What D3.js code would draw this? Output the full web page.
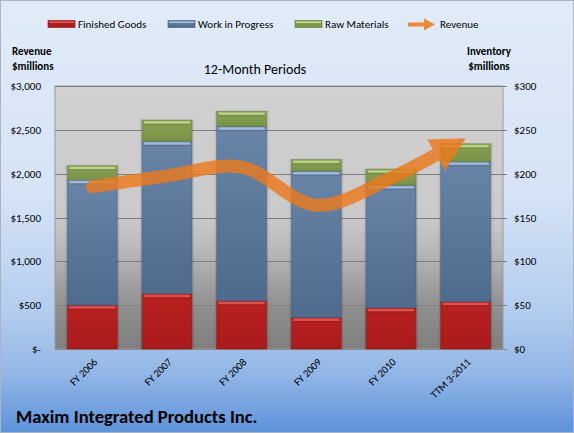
<!DOCTYPE html>
<html>
<head>
<meta charset="utf-8">
<script src="https://cdnjs.cloudflare.com/ajax/libs/d3/7.8.5/d3.min.js"></script>
<style>
  html, body { margin: 0; padding: 0; background: #fff; }
  svg { display: block; }
  text { font-family: Carlito, Lato, "Open Sans", sans-serif; fill: #000; }
</style>
</head>
<body>
<svg id="chart" width="574" height="433"></svg>
<script>
const categories = ["FY 2006", "FY 2007", "FY 2008", "FY 2009", "FY 2010", "TTM 3-2011"];
const finishedGoods = [50, 63, 55, 36, 47, 54];
const workInProgress = [143, 174, 199, 167, 140, 160];
const rawMaterials = [16, 24, 17, 13, 18, 20];
const revenue = [1850, 1975, 2075, 1640, 1950, 2405];
const revenueTicks = [0, 500, 1000, 1500, 2000, 2500, 3000];
const inventoryTicks = [0, 50, 100, 150, 200, 250, 300];
const seriesNames = ["Finished Goods", "Work in Progress", "Raw Materials"];

const W = 574, H = 433;
const plot = { left: 55, right: 503, top: 86, bottom: 349 };
const svg = d3.select("#chart");
const defs = svg.append("defs");

function vgrad(id, stops) {
  const g = defs.append("linearGradient").attr("id", id)
    .attr("x1", 0).attr("y1", 0).attr("x2", 0).attr("y2", 1);
  stops.forEach(s => g.append("stop").attr("offset", s[0]).attr("stop-color", s[1]));
}
vgrad("bgGrad", [[0, "#e1ebf8"], [0.45, "#d5e3f6"], [0.72, "#b3cdee"], [0.86, "#93b7e6"], [1, "#5d93da"]]);
vgrad("plotGrad", [[0, "#d1d1d1"], [0.5, "#cacaca"], [0.62, "#b9b9b9"], [0.85, "#8e8e8e"], [1, "#7e7e7e"]]);
vgrad("g0", [[0, "#b8211f"], [1, "#aa1b1b"]]);
vgrad("g1", [[0, "#6884a7"], [1, "#4e6b8e"]]);
vgrad("g2", [[0, "#88a154"], [1, "#7a9348"]]);
const hiColors = ["#e25a5a", "#a9c3e2", "#c3da8e"];
const edgeColors = ["#8a1414", "#3f5674", "#5f7536"];

// background
svg.append("rect").attr("x", 0.5).attr("y", 0.5).attr("width", W - 1).attr("height", H - 1)
  .attr("fill", "url(#bgGrad)").attr("stroke", "#a8b4c4").attr("stroke-width", 1);

// scales
const x = d3.scaleBand().domain(categories).range([plot.left, plot.right])
  .paddingInner(0.33).paddingOuter(0.165);
const yL = d3.scaleLinear().domain([0, 3000]).range([plot.bottom, plot.top]);
const yR = d3.scaleLinear().domain([0, 300]).range([plot.bottom, plot.top]);

// plot area
svg.append("rect").attr("x", plot.left).attr("y", plot.top)
  .attr("width", plot.right - plot.left).attr("height", plot.bottom - plot.top)
  .attr("fill", "url(#plotGrad)").attr("stroke", "#9a9a9a");

// gridlines
svg.append("g").selectAll("line").data(revenueTicks.slice(1)).join("line")
  .attr("x1", plot.left).attr("x2", plot.right + 4)
  .attr("y1", d => Math.round(yL(d)) + 0.5).attr("y2", d => Math.round(yL(d)) + 0.5)
  .attr("stroke", "#7f7f7f").attr("stroke-width", 1);
svg.append("line").attr("x1", plot.left).attr("x2", plot.right + 4)
  .attr("y1", plot.bottom + 0.5).attr("y2", plot.bottom + 0.5).attr("stroke", "#8a8a8a");

// left axis
const leftAxis = d3.axisLeft(yL).tickValues(revenueTicks).tickSize(0).tickPadding(14)
  .tickFormat(d => d === 0 ? "$-" : "$" + d3.format(",")(d));
const la = svg.append("g").attr("transform", `translate(${plot.left},0)`).call(leftAxis);
la.select(".domain").remove();
la.selectAll("text").style("font-size", "11px").style("font-family", "Carlito, Lato, sans-serif").attr("fill", "#000");

// right axis
const rightAxis = d3.axisRight(yR).tickValues(inventoryTicks).tickSize(0).tickPadding(11)
  .tickFormat(d => "$" + d);
const ra = svg.append("g").attr("transform", `translate(${plot.right},0)`).call(rightAxis);
ra.select(".domain").remove();
ra.selectAll("text").style("font-size", "11px").style("font-family", "Carlito, Lato, sans-serif").attr("fill", "#000");

// stacked bars
const rows = categories.map((c, i) => ({ cat: c, fg: finishedGoods[i], wip: workInProgress[i], rm: rawMaterials[i] }));
const stack = d3.stack().keys(["fg", "wip", "rm"])(rows);
const bw = x.bandwidth();
// shadow
svg.append("g").selectAll("rect").data(rows).join("rect")
  .attr("x", d => x(d.cat) - 2).attr("y", d => yR(d.fg + d.wip + d.rm) - 1)
  .attr("width", bw + 4).attr("height", d => plot.bottom - yR(d.fg + d.wip + d.rm) + 1)
  .attr("fill", "rgba(0,0,0,0.08)");
stack.forEach((layer, k) => {
  const g = svg.append("g");
  layer.forEach((d, i) => {
    const x0 = x(categories[i]);
    const yTop = yR(d[1]), yBot = yR(d[0]);
    g.append("rect").attr("x", x0).attr("y", yTop).attr("width", bw).attr("height", yBot - yTop)
      .attr("fill", `url(#g${k})`).attr("stroke", edgeColors[k]).attr("stroke-opacity", 0.45).attr("stroke-width", 1);
    g.append("rect").attr("x", x0 + 2).attr("y", yTop + 1).attr("width", bw - 4).attr("height", 2.5)
      .attr("fill", hiColors[k]).attr("opacity", 0.85);
    g.append("rect").attr("x", x0 + 1).attr("y", yTop + 3.5).attr("width", bw - 2).attr("height", 1.5)
      .attr("fill", "#000").attr("opacity", 0.1);
  });
});

// x labels
svg.append("g").selectAll("text").data(categories).join("text")
  .attr("transform", d => `translate(${x(d) + bw / 2 + 3},${plot.bottom + 11}) rotate(-45)`)
  .attr("text-anchor", "end").attr("dy", "0.35em")
  .style("font-size", "10.5px").text(d => d);

// revenue line with arrow
const pts = categories.map((c, i) => [x(c) + bw / 2, yL(revenue[i])]);
const lineGen = d3.line().curve(d3.curveCatmullRom.alpha(0.5));
const rg = svg.append("g").attr("opacity", 0.82);
const path = rg.append("path").attr("d", lineGen(pts)).attr("fill", "none")
  .attr("stroke", "#ec7a1c").attr("stroke-width", 13).attr("stroke-linecap", "round");
const total = path.node().getTotalLength();
const headLen = 34, headW = 36;
path.attr("stroke-dasharray", `${total - headLen + 6} ${total + 50}`);
const pEnd = path.node().getPointAtLength(total);
const pPrev = path.node().getPointAtLength(total - 12);
const ang = Math.atan2(pEnd.y - pPrev.y, pEnd.x - pPrev.x);
const ux = Math.cos(ang), uy = Math.sin(ang);
const bx = pEnd.x - ux * headLen, by = pEnd.y - uy * headLen;
rg.append("path").attr("d", `M${pEnd.x},${pEnd.y}L${bx - uy * headW / 2},${by + ux * headW / 2}L${bx + uy * headW / 2},${by - ux * headW / 2}Z`)
  .attr("fill", "#ec7a1c");

// legend
const legend = svg.append("g");
const legItems = [
  { x: 48, label: seriesNames[0], k: 0 },
  { x: 168, label: seriesNames[1], k: 1 },
  { x: 295, label: seriesNames[2], k: 2 }
];
legItems.forEach(it => {
  legend.append("rect").attr("x", it.x).attr("y", 20.5).attr("width", 27).attr("height", 7)
    .attr("fill", `url(#g${it.k})`).attr("stroke", edgeColors[it.k]).attr("stroke-opacity", 0.6);
  legend.append("rect").attr("x", it.x + 1).attr("y", 21.5).attr("width", 25).attr("height", 1.5)
    .attr("fill", hiColors[it.k]);
  legend.append("text").attr("x", it.x + 30).attr("y", 28).style("font-size", "11px").text(it.label);
});
const la2 = legend.append("g").attr("opacity", 0.85);
la2.append("line").attr("x1", 408).attr("x2", 425).attr("y1", 24.5).attr("y2", 24.5)
  .attr("stroke", "#ec7a1c").attr("stroke-width", 4);
la2.append("path").attr("d", "M435,24.5L424,18.5L424,30.5Z").attr("fill", "#ec7a1c");
legend.append("text").attr("x", 440).attr("y", 28).style("font-size", "11px").text("Revenue");

// axis titles
svg.append("text").attr("x", 12).attr("y", 55).style("font-size", "11px").style("font-weight", "bold").text("Revenue");
svg.append("text").attr("x", 12).attr("y", 70).style("font-size", "11px").style("font-weight", "bold").text("$millions");
svg.append("text").attr("x", 489).attr("y", 55).attr("text-anchor", "middle").style("font-size", "11px").style("font-weight", "bold").text("Inventory");
svg.append("text").attr("x", 489).attr("y", 70).attr("text-anchor", "middle").style("font-size", "11px").style("font-weight", "bold").text("$millions");

// chart title
svg.append("text").attr("x", 255).attr("y", 74).attr("text-anchor", "middle").style("font-size", "14px").text("12-Month Periods");

// company name
svg.append("text").attr("x", 16).attr("y", 423).style("font-size", "18.6px").style("font-weight", "bold").text("Maxim Integrated Products Inc.");
</script>
</body>
</html>
